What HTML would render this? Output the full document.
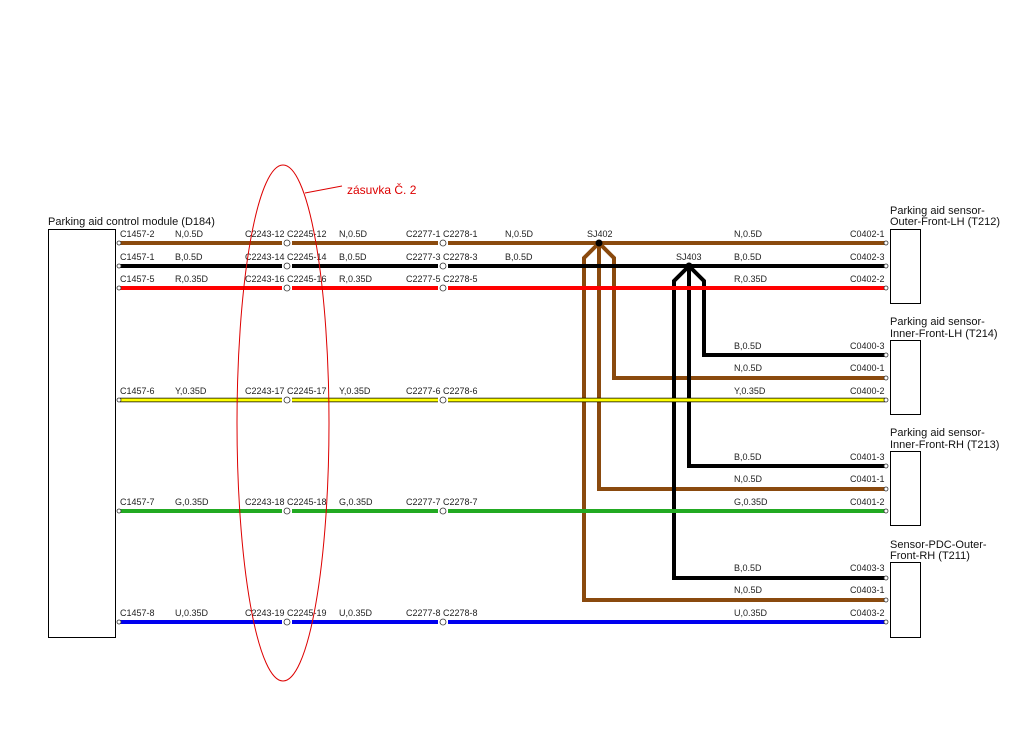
<!DOCTYPE html>
<html><head><meta charset="utf-8"><style>
html,body{margin:0;padding:0;background:#fff;width:1024px;height:742px;overflow:hidden}
text{font-family:"Liberation Sans",sans-serif;font-size:9px;fill:#222}
.t{font-size:11px;fill:#111}
</style></head><body>
<svg width="1024" height="742" viewBox="0 0 1024 742" xmlns="http://www.w3.org/2000/svg">
<g fill="none" stroke-width="4" stroke-linejoin="miter">
<path d="M599,243 L584,258 L584,600 L885,600" stroke="#8a4a0e"/>
<path d="M599,243 L599,489 L885,489" stroke="#8a4a0e"/>
<path d="M599,243 L614,258 L614,378 L885,378" stroke="#8a4a0e"/>
<path d="M689,266 L674,281 L674,578 L885,578" stroke="#000"/>
<path d="M689,266 L689,466 L885,466" stroke="#000"/>
<path d="M689,266 L704,281 L704,355 L885,355" stroke="#000"/>
<g stroke="#8a4a0e"><path d="M120,243H282M292,243H438M448,243H885"/></g>
<g stroke="#000"><path d="M120,266H282M292,266H438M448,266H885"/></g>
<g stroke="#f00"><path d="M120,288H282M292,288H438M448,288H885"/></g>
<g stroke="#000" stroke-width="4.5"><path d="M120,400H282M292,400H438M448,400H885"/></g>
<g stroke="#ff0" stroke-width="3"><path d="M120,400H282M292,400H438M448,400H885"/></g>
<g stroke="#22aa22"><path d="M120,511H282M292,511H438M448,511H885"/></g>
<g stroke="#0000ee"><path d="M120,622H282M292,622H438M448,622H885"/></g>
</g>
<circle cx="599" cy="243" r="3.5" fill="#000"/>
<circle cx="689" cy="266" r="3.5" fill="#000"/>
<g fill="#fff" stroke="#333" stroke-width="0.8">
<circle cx="287" cy="243" r="3"/><circle cx="443" cy="243" r="3"/>
<circle cx="287" cy="266" r="3"/><circle cx="443" cy="266" r="3"/>
<circle cx="287" cy="288" r="3"/><circle cx="443" cy="288" r="3"/>
<circle cx="287" cy="400" r="3"/><circle cx="443" cy="400" r="3"/>
<circle cx="287" cy="511" r="3"/><circle cx="443" cy="511" r="3"/>
<circle cx="287" cy="622" r="3"/><circle cx="443" cy="622" r="3"/>
<circle cx="119" cy="243" r="2"/><circle cx="119" cy="266" r="2"/><circle cx="119" cy="288" r="2"/><circle cx="119" cy="400" r="2"/><circle cx="119" cy="511" r="2"/><circle cx="119" cy="622" r="2"/>
<circle cx="886" cy="243" r="2"/><circle cx="886" cy="266" r="2"/><circle cx="886" cy="288" r="2"/>
<circle cx="886" cy="355" r="2"/><circle cx="886" cy="378" r="2"/><circle cx="886" cy="400" r="2"/>
<circle cx="886" cy="466" r="2"/><circle cx="886" cy="489" r="2"/><circle cx="886" cy="511" r="2"/>
<circle cx="886" cy="578" r="2"/><circle cx="886" cy="600" r="2"/><circle cx="886" cy="622" r="2"/>
</g>
<g fill="#fff" stroke="#000" stroke-width="1">
<rect x="48.5" y="229.5" width="67" height="408"/>
<rect x="890.5" y="229.5" width="30" height="74"/>
<rect x="890.5" y="340.5" width="30" height="74"/>
<rect x="890.5" y="451.5" width="30" height="74"/>
<rect x="890.5" y="562.5" width="30" height="75"/>
</g>
<text class="t" x="48" y="225">Parking aid control module (D184)</text>
<text class="t" x="890" y="214">Parking aid sensor-</text><text class="t" x="890" y="225">Outer-Front-LH (T212)</text>
<text class="t" x="890" y="325">Parking aid sensor-</text><text class="t" x="890" y="337">Inner-Front-LH (T214)</text>
<text class="t" x="890" y="436">Parking aid sensor-</text><text class="t" x="890" y="448">Inner-Front-RH (T213)</text>
<text class="t" x="890" y="548">Sensor-PDC-Outer-</text><text class="t" x="890" y="559">Front-RH (T211)</text>
<g>
<text x="120" y="237">C1457-2</text><text x="175" y="237">N,0.5D</text><text x="245" y="237">C2243-12 C2245-12</text><text x="339" y="237">N,0.5D</text><text x="406" y="237">C2277-1 C2278-1</text><text x="505" y="237">N,0.5D</text><text x="587" y="237">SJ402</text><text x="734" y="237">N,0.5D</text><text x="850" y="237">C0402-1</text>
<text x="120" y="260">C1457-1</text><text x="175" y="260">B,0.5D</text><text x="245" y="260">C2243-14 C2245-14</text><text x="339" y="260">B,0.5D</text><text x="406" y="260">C2277-3 C2278-3</text><text x="505" y="260">B,0.5D</text><text x="676" y="260">SJ403</text><text x="734" y="260">B,0.5D</text><text x="850" y="260">C0402-3</text>
<text x="120" y="282">C1457-5</text><text x="175" y="282">R,0.35D</text><text x="245" y="282">C2243-16 C2245-16</text><text x="339" y="282">R,0.35D</text><text x="406" y="282">C2277-5 C2278-5</text><text x="734" y="282">R,0.35D</text><text x="850" y="282">C0402-2</text>
<text x="734" y="349">B,0.5D</text><text x="850" y="349">C0400-3</text>
<text x="734" y="371">N,0.5D</text><text x="850" y="371">C0400-1</text>
<text x="120" y="394">C1457-6</text><text x="175" y="394">Y,0.35D</text><text x="245" y="394">C2243-17 C2245-17</text><text x="339" y="394">Y,0.35D</text><text x="406" y="394">C2277-6 C2278-6</text><text x="734" y="394">Y,0.35D</text><text x="850" y="394">C0400-2</text>
<text x="734" y="460">B,0.5D</text><text x="850" y="460">C0401-3</text>
<text x="734" y="482">N,0.5D</text><text x="850" y="482">C0401-1</text>
<text x="120" y="505">C1457-7</text><text x="175" y="505">G,0.35D</text><text x="245" y="505">C2243-18 C2245-18</text><text x="339" y="505">G,0.35D</text><text x="406" y="505">C2277-7 C2278-7</text><text x="734" y="505">G,0.35D</text><text x="850" y="505">C0401-2</text>
<text x="734" y="571">B,0.5D</text><text x="850" y="571">C0403-3</text>
<text x="734" y="593">N,0.5D</text><text x="850" y="593">C0403-1</text>
<text x="120" y="616">C1457-8</text><text x="175" y="616">U,0.35D</text><text x="245" y="616">C2243-19 C2245-19</text><text x="339" y="616">U,0.35D</text><text x="406" y="616">C2277-8 C2278-8</text><text x="734" y="616">U,0.35D</text><text x="850" y="616">C0403-2</text>
</g>
<ellipse cx="283" cy="423" rx="46" ry="258" fill="none" stroke="#d00" stroke-width="1"/>
<line x1="305" y1="193" x2="342" y2="186" stroke="#d00" stroke-width="1"/>
<text x="347" y="194" style="font-size:12px;fill:#d00">zásuvka Č. 2</text>
</svg>
</body></html>
